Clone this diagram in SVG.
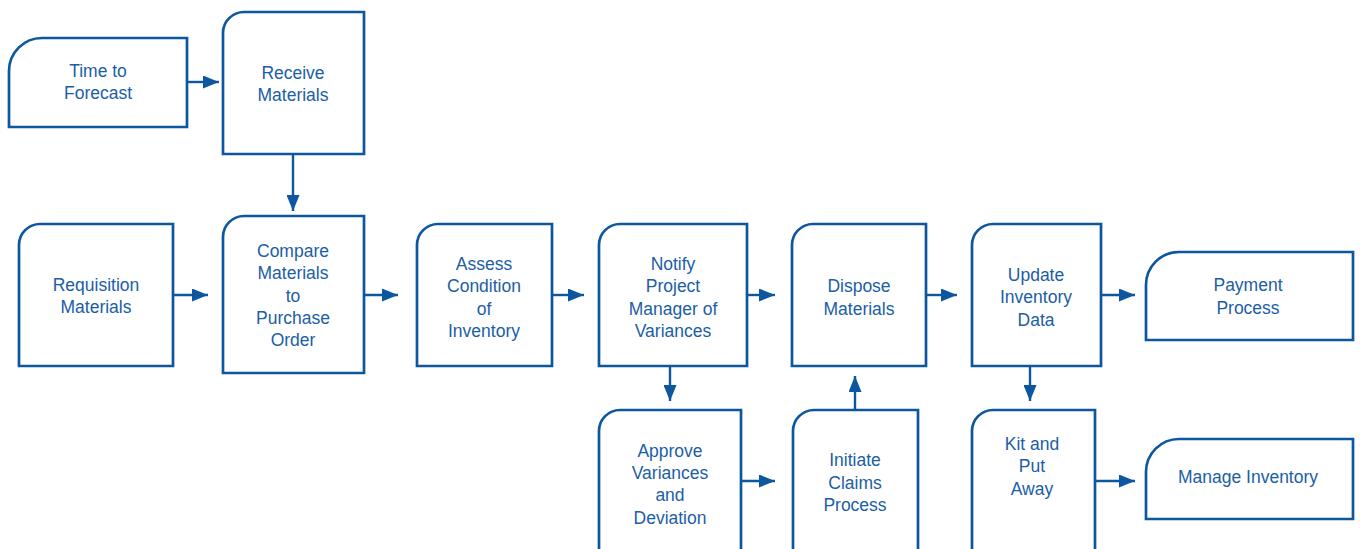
<svg xmlns="http://www.w3.org/2000/svg" width="1360" height="549" viewBox="0 0 1360 549">
  <style>
    .box { fill: #ffffff; stroke: #0d57a1; stroke-width: 2.7; }
    .lbl { font-family: "Liberation Sans", Arial, sans-serif; font-size: 17.5px; fill: #1b5ea6; text-anchor: middle; }
    .wire { fill: none; stroke: #0d57a1; stroke-width: 2.4; }
  </style>
  <defs>
    <marker id="arrow" viewBox="0 0 16 13" refX="16" refY="6.5" markerWidth="16" markerHeight="13" markerUnits="userSpaceOnUse" orient="auto">
      <path d="M0,0 L16,6.5 L0,13 Z" fill="#0d57a1"/>
    </marker>
  </defs>
  <rect width="1360" height="549" fill="#ffffff"/>

  <!-- connectors -->
  <g id="connectors">
    <line class="wire" x1="187" y1="82" x2="219" y2="82" marker-end="url(#arrow)"/>
    <line class="wire" x1="293" y1="154" x2="293" y2="211" marker-end="url(#arrow)"/>
    <line class="wire" x1="173" y1="295" x2="208" y2="295" marker-end="url(#arrow)"/>
    <line class="wire" x1="364" y1="295" x2="398" y2="295" marker-end="url(#arrow)"/>
    <line class="wire" x1="552" y1="295" x2="584" y2="295" marker-end="url(#arrow)"/>
    <line class="wire" x1="747" y1="295" x2="775" y2="295" marker-end="url(#arrow)"/>
    <line class="wire" x1="926" y1="295" x2="957" y2="295" marker-end="url(#arrow)"/>
    <line class="wire" x1="1101" y1="295" x2="1135" y2="295" marker-end="url(#arrow)"/>
    <line class="wire" x1="670" y1="366" x2="670" y2="401" marker-end="url(#arrow)"/>
    <line class="wire" x1="741" y1="481" x2="775" y2="481" marker-end="url(#arrow)"/>
    <line class="wire" x1="855" y1="410" x2="855" y2="376" marker-end="url(#arrow)"/>
    <line class="wire" x1="1030" y1="366" x2="1030" y2="401" marker-end="url(#arrow)"/>
    <line class="wire" x1="1095" y1="481" x2="1135" y2="481" marker-end="url(#arrow)"/>
  </g>

  <!-- nodes: rectangles with a rounded top-left corner -->
  <g id="time-to-forecast">
    <path class="box" d="M9,127 V71 A33,33 0 0 1 42,38 H187 V127 Z"/>
    <text class="lbl" x="98" y="77">Time to</text>
    <text class="lbl" x="98" y="99">Forecast</text>
  </g>
  <g id="receive-materials">
    <path class="box" d="M223,154 V33 A21,21 0 0 1 244,12 H364 V154 Z"/>
    <text class="lbl" x="293" y="79">Receive</text>
    <text class="lbl" x="293" y="101">Materials</text>
  </g>
  <g id="requisition-materials">
    <path class="box" d="M19,366 V245 A21,21 0 0 1 40,224 H173 V366 Z"/>
    <text class="lbl" x="96" y="291">Requisition</text>
    <text class="lbl" x="96" y="313">Materials</text>
  </g>
  <g id="compare-materials">
    <path class="box" d="M223,373 V237 A21,21 0 0 1 244,216 H364 V373 Z"/>
    <text class="lbl" x="293" y="257">Compare</text>
    <text class="lbl" x="293" y="279">Materials</text>
    <text class="lbl" x="293" y="302">to</text>
    <text class="lbl" x="293" y="324">Purchase</text>
    <text class="lbl" x="293" y="346">Order</text>
  </g>
  <g id="assess-condition">
    <path class="box" d="M417,366 V245 A21,21 0 0 1 438,224 H552 V366 Z"/>
    <text class="lbl" x="484" y="270">Assess</text>
    <text class="lbl" x="484" y="292">Condition</text>
    <text class="lbl" x="484" y="315">of</text>
    <text class="lbl" x="484" y="337">Inventory</text>
  </g>
  <g id="notify-pm">
    <path class="box" d="M599,366 V245 A21,21 0 0 1 620,224 H747 V366 Z"/>
    <text class="lbl" x="673" y="270">Notify</text>
    <text class="lbl" x="673" y="292">Project</text>
    <text class="lbl" x="673" y="315">Manager of</text>
    <text class="lbl" x="673" y="337">Variances</text>
  </g>
  <g id="dispose-materials">
    <path class="box" d="M792,366 V245 A21,21 0 0 1 813,224 H926 V366 Z"/>
    <text class="lbl" x="859" y="292">Dispose</text>
    <text class="lbl" x="859" y="315">Materials</text>
  </g>
  <g id="update-inventory">
    <path class="box" d="M972,366 V245 A21,21 0 0 1 993,224 H1101 V366 Z"/>
    <text class="lbl" x="1036" y="281">Update</text>
    <text class="lbl" x="1036" y="303">Inventory</text>
    <text class="lbl" x="1036" y="326">Data</text>
  </g>
  <g id="payment-process">
    <path class="box" d="M1146,340 V285 A33,33 0 0 1 1179,252 H1353 V340 Z"/>
    <text class="lbl" x="1248" y="291">Payment</text>
    <text class="lbl" x="1248" y="314">Process</text>
  </g>
  <g id="approve-variances">
    <path class="box" d="M599,560 V431 A21,21 0 0 1 620,410 H741 V560 Z"/>
    <text class="lbl" x="670" y="457">Approve</text>
    <text class="lbl" x="670" y="479">Variances</text>
    <text class="lbl" x="670" y="501">and</text>
    <text class="lbl" x="670" y="524">Deviation</text>
  </g>
  <g id="initiate-claims">
    <path class="box" d="M793,560 V431 A21,21 0 0 1 814,410 H918 V560 Z"/>
    <text class="lbl" x="855" y="466">Initiate</text>
    <text class="lbl" x="855" y="489">Claims</text>
    <text class="lbl" x="855" y="511">Process</text>
  </g>
  <g id="kit-put-away">
    <path class="box" d="M972,560 V431 A21,21 0 0 1 993,410 H1095 V560 Z"/>
    <text class="lbl" x="1032" y="450">Kit and</text>
    <text class="lbl" x="1032" y="472">Put</text>
    <text class="lbl" x="1032" y="495">Away</text>
  </g>
  <g id="manage-inventory">
    <path class="box" d="M1146,519 V472 A33,33 0 0 1 1179,439 H1353 V519 Z"/>
    <text class="lbl" x="1248" y="483">Manage Inventory</text>
  </g>
</svg>
